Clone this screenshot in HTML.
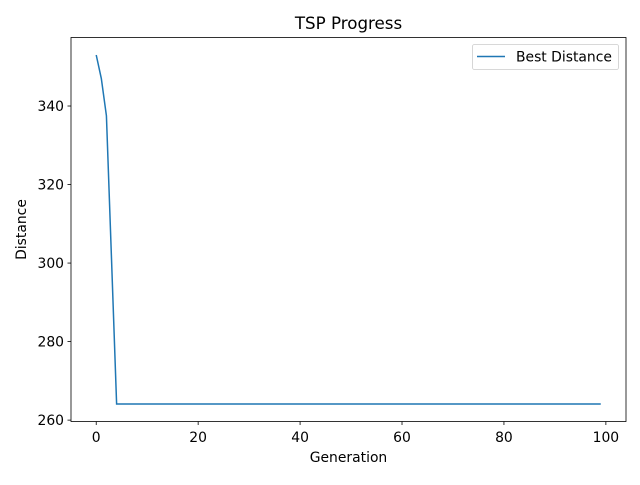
<!DOCTYPE html>
<html><head><meta charset="utf-8"><style>
body{margin:0;background:#fff;font-family:"Liberation Sans","DejaVu Sans",sans-serif}
</style></head><body>
<svg id="chart" width="640" height="480" xmlns="http://www.w3.org/2000/svg" font-family="'DejaVu Sans','Liberation Sans',sans-serif"></svg>
<script>
const generations = [];
const bestDistance = [353, 347, 337.5, 301, 264.1];
for (let i = 5; i < 100; i++) bestDistance.push(264.1);
for (let i = 0; i < bestDistance.length; i++) generations.push(i);
const xTicks = [0, 20, 40, 60, 80, 100];
const yTicks = [260, 280, 300, 320, 340];

const L = 71, R = 626, T = 37.5, B = 421.5;
const xMin = -4.95, xMax = 103.95, yMin = 259.65, yMax = 357.45;
const xs = v => L + (v - xMin) / (xMax - xMin) * (R - L);
const ys = v => B - (v - yMin) / (yMax - yMin) * (B - T);
const svg = document.getElementById('chart');
const NS = 'http://www.w3.org/2000/svg';
function mk(tag, attrs, parent) {
  const e = document.createElementNS(NS, tag);
  for (const k in attrs) e.setAttribute(k, attrs[k]);
  (parent || svg).appendChild(e);
  return e;
}
const pts = generations.map((g, i) => xs(g) + ',' + ys(bestDistance[i])).join(' ');
const line = mk('polyline', {points: pts, fill: 'none', stroke: '#1f77b4', 'stroke-width': 1.5});


const frame = mk('rect', {x: L, y: T, width: R - L, height: B - T, fill: 'none', stroke: '#000', 'stroke-width': 0.8});


xTicks.forEach(t => {
  const x = xs(t);
  mk('line', {x1: x, x2: x, y1: B, y2: B + 3.5, stroke: '#000', 'stroke-width': 0.8});
  const tx = mk('text', {x: x, y: B + 20.5, 'font-size': 13.9, 'text-anchor': 'middle'});
  tx.textContent = t;
  
  
});
yTicks.forEach(t => {
  const y = ys(t);
  mk('line', {x1: L, x2: L - 3.5, y1: y, y2: y, stroke: '#000', 'stroke-width': 0.8});
  const tx = mk('text', {x: L - 7, y: y + 5, 'font-size': 13.9, 'text-anchor': 'end'});
  tx.textContent = t;
  
  
});
const title = mk('text', {x: (L + R) / 2, y: 29, 'font-size': 16.7, 'text-anchor': 'middle'});
title.textContent = 'TSP Progress';


const xl = mk('text', {x: (L + R) / 2, y: 462, 'font-size': 13.9, 'text-anchor': 'middle'});
xl.textContent = 'Generation';


const yl = mk('text', {x: 26, y: (T + B) / 2, 'font-size': 13.9, 'text-anchor': 'middle', transform: 'rotate(-90 26 ' + (T + B) / 2 + ')'});
yl.textContent = 'Distance';


const lg = mk('g', {});


mk('rect', {x: 472.5, y: 44.5, width: 146, height: 25, rx: 2, fill: '#fff', stroke: '#ccc', 'stroke-width': 0.8}, lg);
mk('line', {x1: 477, x2: 505, y1: 56.5, y2: 56.5, stroke: '#1f77b4', 'stroke-width': 1.5}, lg);
const lt = mk('text', {x: 516, y: 61.5, 'font-size': 13.9}, lg);
lt.textContent = 'Best Distance';


</script>
</body></html>
